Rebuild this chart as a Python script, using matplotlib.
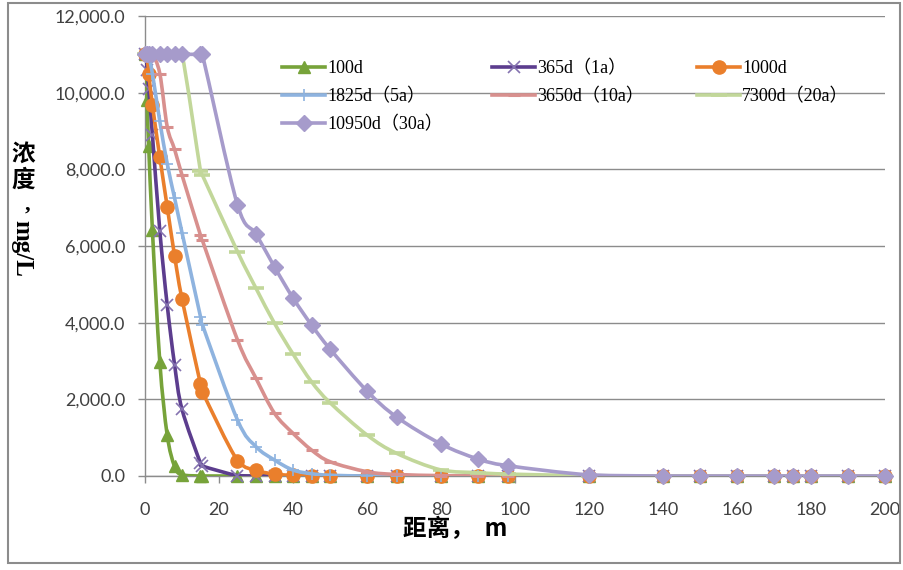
import numpy as np
import matplotlib
matplotlib.use('Agg')
import matplotlib.pyplot as plt
from matplotlib.path import Path
from matplotlib.patches import PathPatch, Rectangle
from matplotlib.lines import Line2D
from matplotlib.legend import Legend
from matplotlib.ticker import FuncFormatter, MultipleLocator

# distance from source, m
distance = [0, 0.5, 1, 2, 4, 6, 8, 10, 15, 15.5, 25, 30, 35, 40, 45, 50, 60, 68,
            80, 90, 98, 120, 140, 150, 160, 170, 175, 180, 190, 200]

# concentration, mg/L
c_100d = [11000, 9800, 8600, 6420, 2980, 1070, 250, 30, 0, 0, 0, 0, 0, 0, 0,
          0, 0, 0, 0, 0, 0, 0, 0, 0, 0, 0, 0, 0, 0, 0]
c_365d = [11000, 10600, 10100, 8900, 6400, 4460, 2900, 1740, 330, 260, 10, 0, 0, 0, 0,
          0, 0, 0, 0, 0, 0, 0, 0, 0, 0, 0, 0, 0, 0, 0]
c_1000d = [11000, 11000, 10500, 9680, 8320, 7025, 5740, 4618, 2400, 2200, 400, 150, 50, 15, 5,
           0, 0, 0, 0, 0, 0, 0, 0, 0, 0, 0, 0, 0, 0, 0]
c_1825d = [11000, 11000, 10950, 10500, 9250, 8150, 7250, 6350, 4156, 3950, 1460, 765, 417, 156, 60,
           20, 0, 0, 0, 0, 0, 0, 0, 0, 0, 0, 0, 0, 0, 0]
c_3650d = [11000, 11000, 11000, 11000, 10500, 9113, 8520, 7850, 6280, 6150, 3548, 2549, 1636, 1113, 678,
           373, 112, 40, 10, 0, 0, 0, 0, 0, 0, 0, 0, 0, 0, 0]
c_7300d = [11000, 11000, 11000, 11000, 11000, 11000, 11000, 11000, 7950, 7850, 5852, 4897, 3983, 3183, 2460,
           1913, 1070, 592, 157, 86, 50, 10, 0, 0, 0, 0, 0, 0, 0, 0]
c_10950d = [11000, 11000, 11000, 11000, 11000, 11000, 11000, 11000, 11000, 11000, 7070, 6314, 5453, 4644, 3940,
            3313, 2218, 1539, 835, 444, 270, 30, 0, 0, 0, 0, 0, 0, 0, 0]

labels = ['100d', '365d（1a）', '1000d', '1825d（5a）', '3650d（10a）', '7300d（20a）', '10950d（30a）']
series = [c_100d, c_365d, c_1000d, c_1825d, c_3650d, c_7300d, c_10950d]

colors = ['#77A33A', '#5C3D8E', '#EA7F2C', '#8EB3DF', '#D8908E', '#C2D79A', '#A69BCB']
mcolors = ['#77A33A', '#8573B0', '#EA7F2C', '#8EB3DF', '#D8908E', '#C2D79A', '#A69BCB']
markers = ['^', 'x', 'o', '+', '_', '_', 'D']
msizes = [8.5, 9, 9.5, 9, 8, 11, 8]
mew = [1, 1.2, 1, 1.2, 2.2, 2.6, 1]


def smooth_path(x, y):
    """
    Excel-like smoothed line through the points (Catmull-Rom as bezier),
    control points kept inside each segment's y range so flat parts stay flat
    """
    pts = np.column_stack([x, y]).astype(float)
    n = len(pts)
    verts = [pts[0]]
    codes = [Path.MOVETO]
    for i in range(n - 1):
        p0 = pts[i - 1] if i > 0 else pts[i]
        p1 = pts[i]
        p2 = pts[i + 1]
        p3 = pts[i + 2] if i + 2 < n else pts[i + 1]
        c1 = p1 + (p2 - p0) / 6
        c2 = p2 - (p3 - p1) / 6
        lo, hi = min(p1[1], p2[1]), max(p1[1], p2[1])
        c1[1] = np.clip(c1[1], lo, hi)
        c2[1] = np.clip(c2[1], lo, hi)
        verts += [c1, c2, p2]
        codes += [Path.CURVE4] * 3
    return Path(verts, codes)


W, H = 904, 570
fig = plt.figure(figsize=(W / 100, H / 100), dpi=100)
fig.patch.set_facecolor('white')
fig.add_artist(Rectangle((8 / W, 1 - 563 / H), 892 / W, 560 / H, transform=fig.transFigure,
                         fill=False, edgecolor='#8C8C8C', lw=1.5))

ax = fig.add_axes([145 / W, 1 - 476 / H, 740 / W, 460 / H])

handles = []
for i, (vals, lab) in enumerate(zip(series, labels)):
    ax.add_patch(PathPatch(smooth_path(distance, vals), fill=False, edgecolor=colors[i],
                           lw=2.6, zorder=3 + 2 * i, capstyle='round', joinstyle='round'))
    ax.plot(distance, vals, ls='none', marker=markers[i], ms=msizes[i], color=mcolors[i],
            mec=mcolors[i], mew=mew[i], zorder=4 + 2 * i, clip_on=False)
    handles.append(Line2D([], [], color=colors[i], lw=2.6, marker=markers[i], ms=msizes[i],
                          mfc=mcolors[i], mec=mcolors[i], mew=mew[i]))

ax.set_xlim(0, 200)
ax.set_ylim(0, 12000)
ax.xaxis.set_major_locator(MultipleLocator(20))
ax.yaxis.set_major_locator(MultipleLocator(2000))
ax.yaxis.set_major_formatter(FuncFormatter(lambda v, p: '{:,.1f}'.format(v)))
ax.grid(axis='y', color='#8C8C8C', lw=1)
ax.set_axisbelow(True)
for s in ['top', 'right']:
    ax.spines[s].set_visible(False)
for s in ['left', 'bottom']:
    ax.spines[s].set_color('#8C8C8C')
    ax.spines[s].set_linewidth(1)
ax.tick_params(axis='both', colors='#8C8C8C', length=5, width=1, labelcolor='#404040',
               labelsize=13)
ax.tick_params(axis='y', pad=9)
ax.tick_params(axis='x', pad=14)
for t in ax.get_xticklabels() + ax.get_yticklabels():
    t.set_fontfamily('Lato')

# legend, three columns laid out row-wise
leg_font = {'family': ['Liberation Serif', 'Noto Sans CJK SC'], 'size': 13}
col_x = [282, 492, 697]
cols = [[0, 3, 6], [1, 4], [2, 5]]
for cx, idx in zip(col_x, cols):
    lg = Legend(ax, [handles[k] for k in idx], [labels[k] for k in idx], prop=leg_font,
                loc='upper left', bbox_to_anchor=(cx / W, 1 - 60 / H),
                bbox_transform=fig.transFigure, frameon=False, borderpad=0,
                borderaxespad=0, handlelength=2.4, handletextpad=0.1,
                labelspacing=0.6, numpoints=1)
    ax.add_artist(lg)

# axis titles
fig.text(455 / W, 1 - 529 / H, '距离，  m', ha='center', va='center', fontsize=17,
         fontweight='bold', family=['Noto Sans CJK SC'])
for ch, yy in zip(['浓', '度'], [154, 180]):
    fig.text(23 / W, 1 - yy / H, ch, ha='center', va='center', fontsize=17,
             fontweight='bold', family=['Noto Sans CJK SC'])
fig.text(28 / W, 1 - 205 / H, ',', ha='center', va='center', fontsize=16,
         fontweight='bold', family=['Liberation Serif'])
fig.text(22 / W, 1 - 248 / H, 'mg/L', ha='center', va='center', fontsize=18, rotation=-90,
         fontweight='bold', family=['Liberation Serif'])

fig.savefig('out.png', dpi=100)
